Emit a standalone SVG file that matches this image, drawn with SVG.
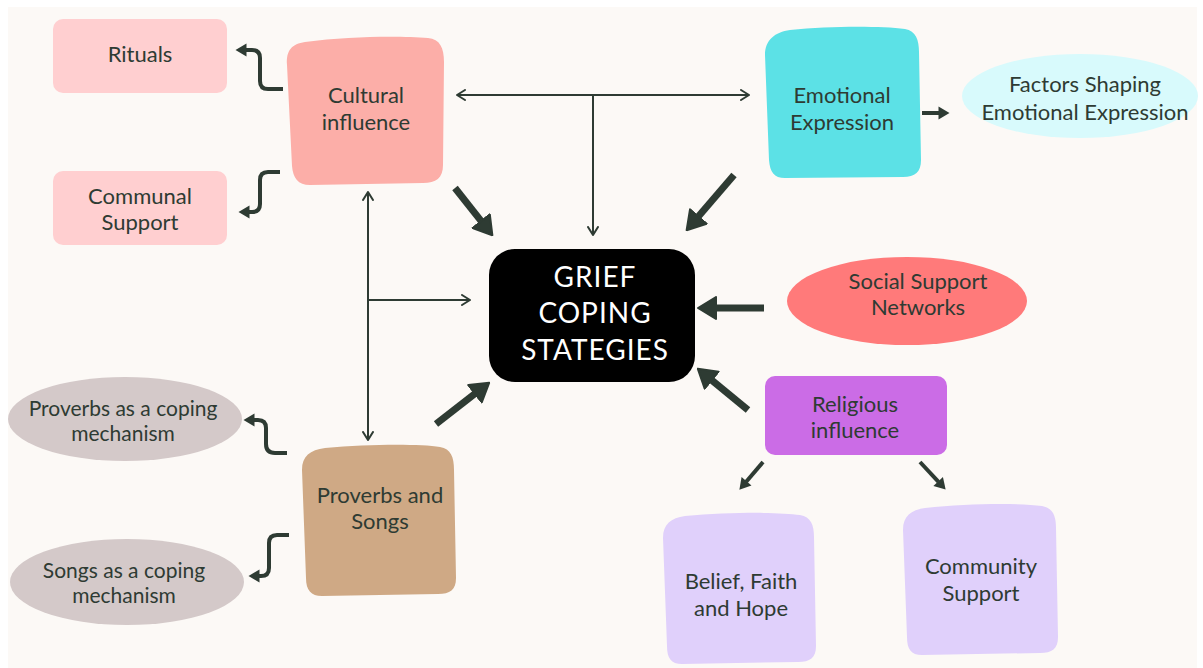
<svg xmlns="http://www.w3.org/2000/svg" width="1203" height="668" viewBox="0 0 1203 668">
<style>
.t{font-family:Lato,"Open Sans","Liberation Sans",sans-serif;font-size:22px;fill:#2E3B33;text-anchor:middle}
.s{font-size:21px}
.w{font-family:Lato,"Open Sans","Liberation Sans",sans-serif;font-size:28px;fill:#ffffff;text-anchor:middle;letter-spacing:1px}
.thick{stroke:#2E3B33;stroke-width:7;fill:none;marker-end:url(#hd)}
.med{stroke:#2E3B33;stroke-width:4;fill:none;marker-end:url(#hm);stroke-linejoin:round}
.thin{stroke:#2E3B33;stroke-width:2;fill:none}
</style>
<defs>
<marker id="hd" viewBox="0 0 20 24" refX="2" refY="12" markerWidth="20" markerHeight="24" markerUnits="userSpaceOnUse" orient="auto">
<path d="M1,1 L19,12 L1,23 Z" fill="#2E3B33" stroke="#2E3B33" stroke-width="2" stroke-linejoin="round"/>
</marker>
<marker id="hm" viewBox="0 0 12 14" refX="1" refY="7" markerWidth="12" markerHeight="14" markerUnits="userSpaceOnUse" orient="auto">
<path d="M0.5,0.5 L11.5,7 L0.5,13.5 Z" fill="#2E3B33"/>
</marker>
<marker id="ch" viewBox="0 0 10 12" refX="9" refY="6" markerWidth="10" markerHeight="12" markerUnits="userSpaceOnUse" orient="auto-start-reverse">
<path d="M1,1 L9,6 L1,11" fill="none" stroke="#2E3B33" stroke-width="2" stroke-linecap="round" stroke-linejoin="round"/>
</marker>
</defs>
<rect x="0" y="0" width="1203" height="668" fill="#ffffff"/>
<rect x="8" y="7" width="1189" height="661" fill="#FCF9F6"/>

<g id="connectors">
<path class="thin" d="M457,95 L749,95" marker-start="url(#ch)" marker-end="url(#ch)"/>
<path class="thin" d="M593,95 L593,235" marker-end="url(#ch)"/>
<path class="thin" d="M368,192 L368,440" marker-start="url(#ch)" marker-end="url(#ch)"/>
<path class="thin" d="M368,300 L470,300" marker-end="url(#ch)"/>
<path class="thick" d="M455,188 L481.8,221.9"/>
<path class="thick" d="M734,175 L697.7,217.3"/>
<path class="thick" d="M764,308 L715,308"/>
<path class="thick" d="M748,410 L710.9,379.5"/>
<path class="thick" d="M436,424 L475.8,393.1"/>
<path class="med" d="M922,113 L939,113"/>
<path class="med" d="M763,462 L746.2,481.7"/>
<path class="med" d="M920,462 L938.5,481.9"/>
<path class="med" d="M283,89 L268,89 Q260,89 260,81 L260,58 Q260,50 252,50 L246,50"/>
<path class="med" d="M280,172 L268,172 Q260,172 260,180 L260,204 Q260,212 252,212 L249,212"/>
<path class="med" d="M287,453 L275,453 Q266,453 266,444 L266,428 Q266,420 258,420 L254,420"/>
<path class="med" d="M289,535 L277,535 Q269,535 269,543 L269,568 Q269,576 261,576 L259,576"/>
</g>

<g id="rituals">
<rect x="53" y="19" width="174" height="74" rx="10" fill="#FFCFD0"/>
<text class="t" x="140" y="62">Rituals</text>
</g>
<g id="communal-support">
<rect x="53" y="171" width="174" height="74" rx="10" fill="#FFCFD0"/>
<text class="t" x="140" y="204">Communal</text>
<text class="t" x="140" y="230">Support</text>
</g>
<g id="cultural-influence">
<path d="M305,42 C350,36 400,36 428,38 C440,39 444,48 444,62 L443,165 C443,178 436,183 423,183 L310,185 C298,185 293,178 292,166 L287,65 C286,50 292,44 305,42 Z" fill="#FCAEA8"/>
<text class="t" x="366" y="103">Cultural</text>
<text class="t" x="366" y="130">influence</text>
</g>
<g id="emotional-expression">
<path d="M790,30 C830,26 880,26 905,29 C916,31 919,40 919,52 L921,160 C921,172 915,177 903,177 L785,178 C774,178 770,172 769,160 L765,55 C765,40 775,32 790,30 Z" fill="#5CE1E6"/>
<text class="t" x="842" y="103">Emotional</text>
<text class="t" x="842" y="130">Expression</text>
</g>
<g id="factors-shaping">
<ellipse cx="1080" cy="96" rx="118" ry="42" fill="#D8FAFC"/>
<text class="t" x="1085" y="92">Factors Shaping</text>
<text class="t" x="1085" y="120">Emotional Expression</text>
</g>
<g id="grief-coping">
<rect x="489" y="249" width="206" height="133" rx="26" fill="#000000"/>
<text class="w" x="595" y="287">GRIEF</text>
<text class="w" x="595" y="323">COPING</text>
<text class="w" x="595" y="360">STATEGIES</text>
</g>
<g id="social-support">
<ellipse cx="907" cy="301" rx="120" ry="44" fill="#FF7A7A"/>
<text class="t" x="918" y="289">Social Support</text>
<text class="t" x="918" y="315">Networks</text>
</g>
<g id="religious-influence">
<rect x="765" y="376" width="182" height="79" rx="10" fill="#CB6CE6"/>
<text class="t" x="855" y="412">Religious</text>
<text class="t" x="855" y="438">influence</text>
</g>
<g id="belief-faith-hope">
<path d="M685,516 C730,512 780,512 800,515 C811,517 814,525 814,537 L816,646 C816,658 810,662 798,662 L682,664 C671,664 667,658 667,646 L663,538 C663,524 671,518 685,516 Z" fill="#E0D0FB"/>
<text class="t" x="741" y="589">Belief, Faith</text>
<text class="t" x="741" y="616">and Hope</text>
</g>
<g id="community-support">
<path d="M925,508 C970,503 1020,503 1042,506 C1053,508 1056,516 1056,528 L1058,637 C1058,649 1052,653 1040,653 L922,655 C911,655 907,649 907,637 L903,530 C903,516 911,510 925,508 Z" fill="#E0D0FB"/>
<text class="t" x="981" y="574">Community</text>
<text class="t" x="981" y="601">Support</text>
</g>
<g id="proverbs-and-songs">
<path d="M325,448 C370,444 420,444 440,447 C451,449 454,457 454,470 L456,578 C456,590 450,594 438,594 L322,596 C311,596 306,590 306,578 L302,470 C302,456 310,450 325,448 Z" fill="#CFA985"/>
<text class="t" x="380" y="503">Proverbs and</text>
<text class="t" x="380" y="529">Songs</text>
</g>
<g id="proverbs-coping">
<ellipse cx="125" cy="419" rx="117" ry="42" fill="#D4C9C9"/>
<text class="t s" x="123" y="416">Proverbs as a coping</text>
<text class="t s" x="123" y="441">mechanism</text>
</g>
<g id="songs-coping">
<ellipse cx="127" cy="582" rx="117" ry="43" fill="#D4C9C9"/>
<text class="t s" x="124" y="578">Songs as a coping</text>
<text class="t s" x="124" y="603">mechanism</text>
</g>
</svg>
